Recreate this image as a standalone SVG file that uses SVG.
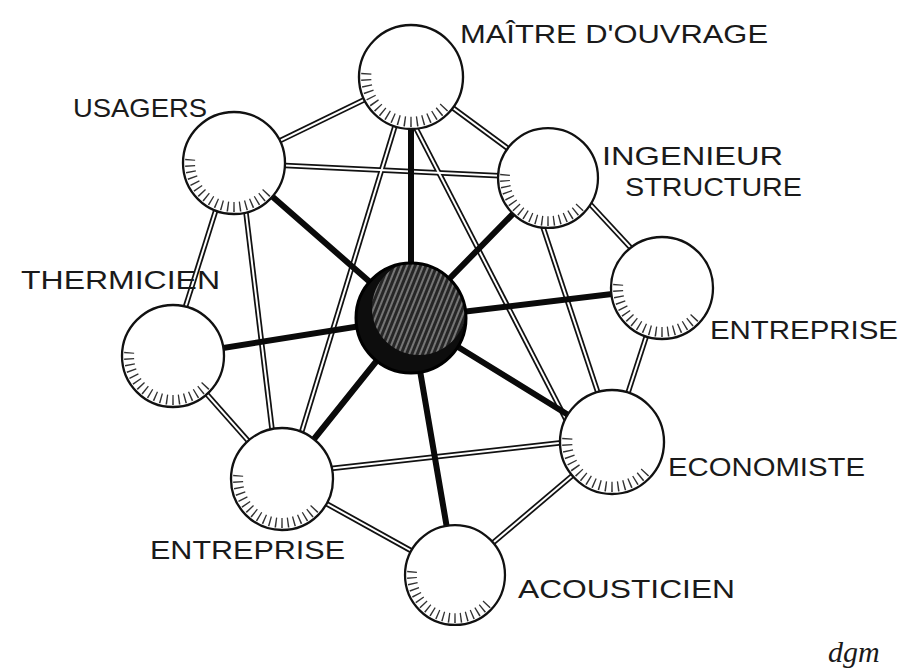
<svg xmlns="http://www.w3.org/2000/svg" xmlns:xlink="http://www.w3.org/1999/xlink" width="912" height="671" viewBox="0 0 912 671">
<style>
.out{fill:#fff;stroke:#111;stroke-width:2.3}
.hatch{fill:none;stroke:#333;stroke-width:10;stroke-dasharray:1.4 4.6}
.lbl{font-family:"Liberation Sans",Arial,sans-serif;font-size:26px;fill:#1a1a1a}
.sig{font-family:"Liberation Serif",serif;font-style:italic;font-size:30px;fill:#1a1a1a}
.spoke{stroke:#0a0a0a;stroke-width:6;stroke-linecap:round}
</style>
<defs>
  <g id="edges">
    <line x1="234" y1="163" x2="411" y2="77"/>
    <line x1="411" y1="77" x2="548" y2="178"/>
    <line x1="234" y1="163" x2="548" y2="178"/>
    <line x1="406" y1="90" x2="290" y2="470"/>
    <line x1="405" y1="107" x2="575" y2="437"/>
    <line x1="230" y1="165" x2="170" y2="356"/>
    <line x1="240" y1="163" x2="278" y2="479"/>
    <line x1="565" y1="177" x2="655" y2="274"/>
    <line x1="534" y1="200" x2="607" y2="420"/>
    <line x1="662" y1="288" x2="612" y2="442"/>
    <line x1="173" y1="356" x2="282" y2="479"/>
    <line x1="282" y1="474" x2="612" y2="437"/>
    <line x1="282" y1="479" x2="455" y2="575"/>
    <line x1="455" y1="575" x2="612" y2="442"/>
  </g>
  <g id="ball">
    <circle class="out" cx="0" cy="0" r="51"/>
    <path class="hatch" d="M -43.8 -3.8 A 44 44 0 0 0 33.7 28.3"/>
  </g>
  <pattern id="stripes" width="5" height="5" patternUnits="userSpaceOnUse" patternTransform="rotate(22)">
    <rect width="5" height="5" fill="#262626"/>
    <line x1="2" y1="0" x2="2" y2="5" stroke="#a0a0a0" stroke-width="1.3"/>
  </pattern>
  <clipPath id="hubclip"><circle cx="411" cy="318" r="55"/></clipPath>
</defs>

<g id="connectors">
  <use href="#edges" stroke="#111" stroke-width="5.5"/>
  <use href="#edges" stroke="#fff" stroke-width="2"/>
  <line class="spoke" x1="411" y1="318" x2="234" y2="163"/>
  <line class="spoke" x1="411" y1="318" x2="411" y2="77"/>
  <line class="spoke" x1="411" y1="318" x2="548" y2="178"/>
  <line class="spoke" x1="411" y1="318" x2="662" y2="288"/>
  <line class="spoke" x1="411" y1="318" x2="612" y2="442"/>
  <line class="spoke" x1="411" y1="318" x2="455" y2="575"/>
  <line class="spoke" x1="411" y1="318" x2="282" y2="479"/>
  <line class="spoke" x1="411" y1="318" x2="173" y2="356"/>
</g>

<g id="n-maitre">
  <use href="#ball" transform="translate(411,77) scale(1.02)"/>
  <text class="lbl" x="460" y="43" textLength="308" lengthAdjust="spacingAndGlyphs">MAÎTRE D'OUVRAGE</text>
</g>
<g id="n-usagers">
  <use href="#ball" transform="translate(234,163)"/>
  <text class="lbl" x="73" y="117" textLength="134" lengthAdjust="spacingAndGlyphs">USAGERS</text>
</g>
<g id="n-ingenieur">
  <use href="#ball" transform="translate(548,178) scale(0.98)"/>
  <text class="lbl" x="602" y="165" textLength="181" lengthAdjust="spacingAndGlyphs">INGENIEUR</text>
  <text class="lbl" x="625" y="196" textLength="177" lengthAdjust="spacingAndGlyphs">STRUCTURE</text>
</g>
<g id="n-thermicien">
  <use href="#ball" transform="translate(173,356)"/>
  <text class="lbl" x="21" y="289" textLength="199" lengthAdjust="spacingAndGlyphs">THERMICIEN</text>
</g>
<g id="n-entreprise-r">
  <use href="#ball" transform="translate(662,288)"/>
  <text class="lbl" x="710" y="339" textLength="188" lengthAdjust="spacingAndGlyphs">ENTREPRISE</text>
</g>
<g id="n-economiste">
  <use href="#ball" transform="translate(612,442) scale(1.02)"/>
  <text class="lbl" x="668" y="476" textLength="197" lengthAdjust="spacingAndGlyphs">ECONOMISTE</text>
</g>
<g id="n-entreprise-bl">
  <use href="#ball" transform="translate(282,479)"/>
  <text class="lbl" x="150" y="559" textLength="195" lengthAdjust="spacingAndGlyphs">ENTREPRISE</text>
</g>
<g id="n-acousticien">
  <use href="#ball" transform="translate(455,575) scale(0.98)"/>
  <text class="lbl" x="518" y="598" textLength="217" lengthAdjust="spacingAndGlyphs">ACOUSTICIEN</text>
</g>
<g id="n-center">
  <circle cx="411" cy="318" r="55" fill="#0d0d0d"/>
  <circle cx="419" cy="308" r="47" fill="url(#stripes)" clip-path="url(#hubclip)"/>
  <circle cx="411" cy="318" r="55" fill="none" stroke="#000" stroke-width="3"/>
</g>
<text class="sig" x="828" y="662">dgm</text>
</svg>
